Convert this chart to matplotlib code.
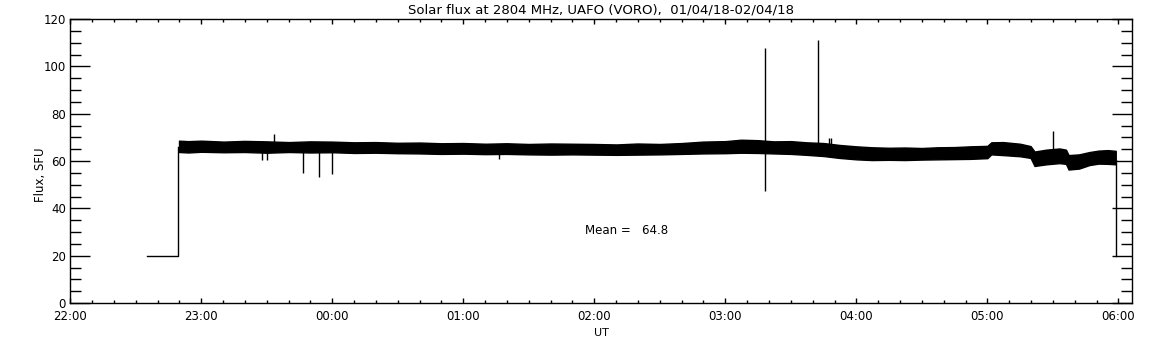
import numpy as np
import matplotlib.pyplot as plt
from matplotlib.ticker import MultipleLocator

# time in hours after 22:00 UT
tick_hours = [0, 1, 2, 3, 4, 5, 6, 7, 8]
tick_labels = ["22:00", "23:00", "00:00", "01:00", "02:00", "03:00", "04:00", "05:00", "06:00"]

# envelope of the noisy flux band (SFU)
band_t = [0.83, 0.9, 1.0, 1.17, 1.33, 1.5, 1.67, 1.83, 2.0, 2.17, 2.33, 2.5, 2.67,
          2.83, 3.0, 3.17, 3.33, 3.5, 3.67, 3.83, 4.0, 4.17, 4.33, 4.5, 4.67, 4.83,
          5.0, 5.12, 5.25, 5.37, 5.5, 5.62, 5.75, 5.87, 6.0, 6.12, 6.25, 6.37, 6.5,
          6.62, 6.75, 6.87, 7.0, 7.03, 7.12, 7.25, 7.33, 7.36, 7.45, 7.55, 7.6, 7.62,
          7.7, 7.78, 7.85, 7.92, 7.98]
band_hi = [68.6, 68.4, 68.6, 68.2, 68.5, 68.3, 68.0, 68.3, 68.2, 67.9, 68.0, 67.7, 67.8,
           67.5, 67.6, 67.3, 67.5, 67.2, 67.4, 67.3, 67.2, 67.0, 67.4, 67.2, 67.6, 68.2,
           68.4, 69.0, 68.8, 68.3, 68.4, 67.9, 67.6, 66.8, 66.2, 65.8, 65.6, 65.7, 65.5,
           65.8, 65.9, 66.2, 66.4, 67.9, 68.0, 67.3, 66.3, 64.0, 64.8, 65.3, 64.8, 62.5,
           62.8, 63.8, 64.4, 64.6, 64.3]
band_lo = [63.8, 63.6, 63.9, 63.7, 63.8, 63.5, 63.8, 63.6, 63.7, 63.4, 63.5, 63.3, 63.2,
           63.0, 63.1, 62.9, 63.0, 62.8, 62.7, 62.8, 62.7, 62.6, 62.7, 62.8, 63.0, 63.2,
           63.3, 63.5, 63.4, 63.2, 63.0, 62.6, 62.1, 61.3, 60.7, 60.4, 60.5, 60.4, 60.6,
           60.7, 60.8, 60.9, 61.2, 62.8, 62.5, 62.0, 61.3, 57.9, 58.6, 59.1, 58.8, 56.4,
           56.8, 58.3, 58.9, 58.8, 58.6]

# isolated spikes: time, low, high
spike_t = [1.46, 1.50, 1.557, 1.779, 1.90, 1.998, 3.27, 5.305, 5.71, 5.79, 5.805, 7.504]
spike_lo = [60.5, 60.5, 65.0, 55.1, 53.4, 54.6, 60.7, 47.4, 64.0, 65.0, 65.0, 65.0]
spike_hi = [64.0, 64.0, 71.4, 64.0, 64.0, 64.0, 63.5, 107.6, 111.1, 69.8, 69.8, 72.7]

# start/end steps to 20 SFU
step_t = [0.585, 0.824, 0.824]
step_y = [20, 20, 66]
end_t = [7.98, 7.98]
end_y = [60.5, 20]

mean_flux = 64.8

fig = plt.figure(figsize=(11.52, 3.45), dpi=100)
ax = fig.add_axes([0.061, 0.1217, 0.9214, 0.8232])

ax.fill_between(band_t, band_lo, band_hi, color='black', lw=1)
ax.vlines(spike_t, spike_lo, spike_hi, color='black', lw=1)
ax.plot(step_t, step_y, color='black', lw=1)
ax.plot(end_t, end_y, color='black', lw=1)

ax.text(3.929, 30.8, "Mean =   %.1f" % mean_flux, fontsize=8.5, va='center', ha='left')

ax.set_xlim(0, 8.102)
ax.set_ylim(0, 120)
ax.set_xticks(tick_hours)
ax.set_xticklabels(tick_labels)
ax.xaxis.set_minor_locator(MultipleLocator(1 / 6))
ax.yaxis.set_major_locator(MultipleLocator(20))
ax.yaxis.set_minor_locator(MultipleLocator(5))

ax.tick_params(axis='x', which='major', direction='in', length=3.6, width=1,
               top=True, pad=5, labelsize=8.5)
ax.tick_params(axis='x', which='minor', direction='in', length=2.2, width=1, top=True)
ax.tick_params(axis='y', which='major', direction='in', length=14.4, width=1,
               right=True, pad=3, labelsize=8.5)
ax.tick_params(axis='y', which='minor', direction='in', length=7.7, width=1, right=True)
for s in ax.spines.values():
    s.set_linewidth(1)

ax.set_xlabel("UT", fontsize=8, va='center')
ax.xaxis.set_label_coords(0.5, -0.105)
ax.set_ylabel("Flux, SFU", fontsize=8.5, va='center')
ax.yaxis.set_label_coords(-0.0285, 0.45)
ax.set_title("Solar flux at 2804 MHz, UAFO (VORO),  01/04/18-02/04/18", fontsize=9.5, pad=4)

fig.savefig("out.png", dpi=100)
